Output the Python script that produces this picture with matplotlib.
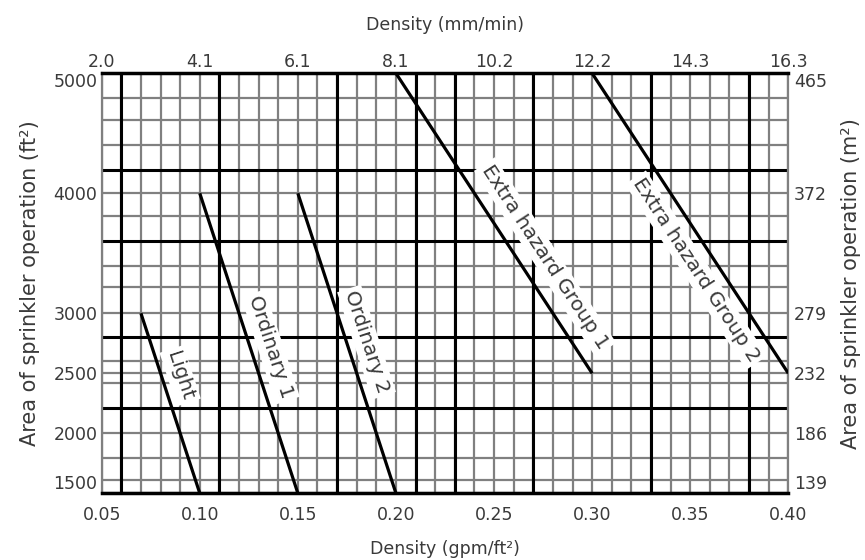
import numpy as np
import matplotlib.pyplot as plt
from matplotlib.ticker import MultipleLocator, FixedLocator

# design curves: density (gpm/ft2) against area of operation (ft2)
hazards = ['Light', 'Ordinary 1', 'Ordinary 2',
           'Extra hazard Group 1', 'Extra hazard Group 2']
density_low = [0.07, 0.10, 0.15, 0.20, 0.30]
area_high = [3000, 4000, 4000, 5000, 5000]
density_high = [0.10, 0.15, 0.20, 0.30, 0.40]
area_low = [1500, 1500, 1500, 2500, 2500]

# label centres along each curve
label_x = [0.090, 0.136, 0.185, 0.276, 0.353]
label_y = [2480, 2720, 2760, 3470, 3360]

gpm_ticks = [0.05, 0.10, 0.15, 0.20, 0.25, 0.30, 0.35, 0.40]
gpm_labels = ['0.05', '0.10', '0.15', '0.20', '0.25', '0.30', '0.35', '0.40']
mm_labels = ['2.0', '4.1', '6.1', '8.1', '10.2', '12.2', '14.3', '16.3']
ft2_ticks = [1500, 2000, 2500, 3000, 4000, 5000]
ft2_labels = ['1500', '2000', '2500', '3000', '4000', '5000']
m2_labels = ['139', '186', '232', '279', '372', '465']

# chart paper rulings
thin_y = [1610, 1790, 2420, 2600, 3220, 3390, 3810, 4400, 4610, 4790]
heavy_y = [2210, 2800, 3605, 4190]
heavy_x = [0.06, 0.11, 0.17, 0.21, 0.23, 0.27, 0.33, 0.38]

txt = '#3a3a3a'
grey = '#808080'

fig = plt.figure(figsize=(8.65, 5.6), dpi=100)
ax = fig.add_axes([101.7 / 865, 1 - 493.3 / 560, 686.6 / 865, 420 / 560])
ax.set_xlim(0.05, 0.40)
ax.set_ylim(1500, 5000)

ax.set_axisbelow(True)
ax.xaxis.set_minor_locator(MultipleLocator(0.01))
ax.yaxis.set_minor_locator(FixedLocator(thin_y))
ax.grid(which='both', color=grey, lw=1.6)
for v in heavy_x:
    ax.axvline(v, color='black', lw=2.2, zorder=1)
for v in heavy_y:
    ax.axhline(v, color='black', lw=2.2, zorder=1)

ax.spines['top'].set_linewidth(2.5)
ax.spines['bottom'].set_linewidth(2.5)
for s in ['left', 'right']:
    ax.spines[s].set_color(grey)
    ax.spines[s].set_linewidth(1.6)

ax.set_xticks(gpm_ticks, gpm_labels)
ax.set_yticks(ft2_ticks, ft2_labels)
ax.tick_params(which='both', length=0)
ax.tick_params(axis='x', pad=9, labelsize=12.5, labelcolor=txt)
ax.tick_params(axis='y', pad=3, labelsize=12.5, labelcolor=txt)
ylab = ax.get_yticklabels()
ylab[0].set_va('bottom')
ylab[-1].set_va('top')

for i in range(len(hazards)):
    ax.plot([density_low[i], density_high[i]], [area_high[i], area_low[i]],
            color='black', lw=2.3, solid_capstyle='butt', zorder=3)
    p0 = ax.transData.transform((density_low[i], area_high[i]))
    p1 = ax.transData.transform((density_high[i], area_low[i]))
    ang = np.degrees(np.arctan2(p1[1] - p0[1], p1[0] - p0[0]))
    ax.text(label_x[i], label_y[i], hazards[i], rotation=ang,
            rotation_mode='anchor', ha='center', va='center',
            fontsize=14.5, color=txt, zorder=4,
            bbox=dict(boxstyle='square,pad=0.15', fc='white', ec='none'))

ax.set_xlabel('Density (gpm/ft²)', fontsize=12.5, color=txt, labelpad=12)
ax.set_ylabel('Area of sprinkler operation (ft²)', fontsize=15, color=txt,
              labelpad=10)

# metric scales on the top and right
axt = ax.twiny()
axt.set_xlim(ax.get_xlim())
axt.set_xticks(gpm_ticks, mm_labels)
axt.tick_params(length=0, pad=2, labelsize=12.5, labelcolor=txt)
axt.set_xlabel('Density (mm/min)', fontsize=12.5, color=txt, labelpad=16)

axr = ax.twinx()
axr.set_ylim(ax.get_ylim())
axr.set_yticks(ft2_ticks, m2_labels)
axr.tick_params(length=0, pad=4, labelsize=12.5, labelcolor=txt)
rlab = axr.get_yticklabels()
rlab[0].set_va('bottom')
rlab[-1].set_va('top')
axr.set_ylabel('Area of sprinkler operation (m²)', fontsize=15, color=txt,
               labelpad=10)

for a in (axt, axr):
    for s in a.spines.values():
        s.set_visible(False)

fig.savefig('out.png', dpi=100)
